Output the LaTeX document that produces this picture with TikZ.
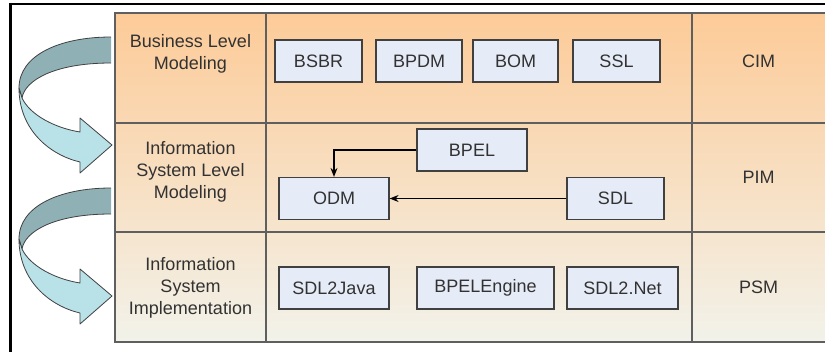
\documentclass[tikz,border=0pt]{standalone}
\usepackage{fontspec}
\setmainfont{Liberation Sans}
\usetikzlibrary{arrows.meta}
\definecolor{peachtop}{RGB}{253,203,152}
\definecolor{creambot}{RGB}{242,242,234}
\definecolor{gridline}{RGB}{95,95,95}
\definecolor{boxfill}{RGB}{230,236,247}
\definecolor{boxline}{RGB}{64,64,64}
\definecolor{ribbonback}{RGB}{143,177,181}
\definecolor{ribbonfront}{RGB}{185,225,232}
\definecolor{labeltext}{RGB}{50,50,50}

\begin{document}
\begin{tikzpicture}[x=1pt,y=-1pt,
  every node/.style={font=\fontsize{18}{22}\selectfont, text=labeltext},
  layerlabel/.style={align=center, inner sep=0pt},
  modelbox/.style={draw=boxline, line width=1.2pt, fill=boxfill,
    minimum height=42pt, inner sep=0pt},
  ribbon/.style={draw=black!75, line width=0.8pt, line join=round},
  link/.style={-{Stealth[length=9pt,width=7pt]}, line width=1.1pt, black}]

\useasboundingbox (0,0) rectangle (825,351);

% outer frame (top and left rules)
\draw[black, line width=2.5pt] (9,4) -- (826,4);
\draw[black, line width=2.5pt] (10.5,2.8) -- (10.5,352);

% layer table with vertical gradient
\shade[top color=peachtop, bottom color=creambot] (115,13) rectangle (826,342);
\draw[gridline, line width=1.5pt] (115,13) rectangle (827,342);
\draw[gridline, line width=1.5pt] (115,123) -- (827,123);
\draw[gridline, line width=1.5pt] (115,232) -- (827,232);
\draw[gridline, line width=1.5pt] (266,13) -- (266,342);
\draw[gridline, line width=1.5pt] (692,13) -- (692,342);

% curled ribbon arrows between layers
\foreach \dy in {0,151} {
  \begin{scope}[shift={(0,\dy)}]
    % back face
    \fill[ribbonback] (111,37) .. controls (60,37) and (19,55) .. (19,88)
      -- (22,98) .. controls (25,80) and (55,63) .. (111,63) -- cycle;
    \draw[ribbon] (111,63) .. controls (55,63) and (25,80) .. (22,98)
      -- (19,88) .. controls (19,55) and (60,37) .. (111,37);
    % front face with arrow head
    \filldraw[ribbon, fill=ribbonfront] (19,88) .. controls (19,130) and (50,155) .. (80,162)
      -- (80,173) -- (112,145) -- (80,118) -- (80,132)
      .. controls (55,128) and (30,115) .. (22,98) -- cycle;
  \end{scope}
}

% layer names
\node[layerlabel] (blm)  at (190.5,54)  {Business Level\\Modeling};
\node[layerlabel] (islm) at (190.5,172) {Information\\System Level\\Modeling};
\node[layerlabel] (isi)  at (190.5,288) {Information\\System\\Implementation};

% model kinds
\node (cim) at (758.5,61)  {CIM};
\node (pim) at (758.5,177) {PIM};
\node (psm) at (758.5,287) {PSM};

% business level models
\node[modelbox, minimum width=87pt] (bsbr) at (318.5,61) {BSBR};
\node[modelbox, minimum width=86pt] (bpdm) at (419,61)   {BPDM};
\node[modelbox, minimum width=85pt] (bom)  at (515.5,61) {BOM};
\node[modelbox, minimum width=87pt] (ssl)  at (616.5,61) {SSL};

% information system level models
\node[modelbox, minimum width=110pt] (bpel) at (472,150)   {BPEL};
\node[modelbox, minimum width=110pt] (odm)  at (334,198.5) {ODM};
\node[modelbox, minimum width=97pt]  (sdl)  at (615.5,198.5) {SDL};

% implementation level
\node[modelbox, minimum width=110pt] (sdljava)  at (334,288)   {SDL2Java};
\node[modelbox, minimum width=137pt] (bpeleng)  at (485.5,288) {BPELEngine};
\node[modelbox, minimum width=111pt] (sdlnet)   at (622.5,288) {SDL2.Net};

% mappings onto the ODM
\draw[link] (bpel.west) -| (odm.north);
\draw[link] (sdl.west) -- (odm.east);
\end{tikzpicture}
\end{document}
